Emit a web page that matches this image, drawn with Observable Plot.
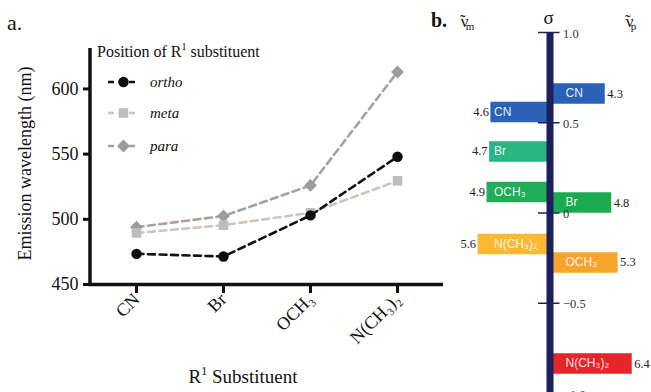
<!DOCTYPE html>
<html><head><meta charset="utf-8">
<script src="https://cdn.jsdelivr.net/npm/d3@7"></script>
<script src="https://cdn.jsdelivr.net/npm/@observablehq/plot@0.6"></script>
<style>
html,body{margin:0;padding:0;background:#fff;overflow:hidden}
#wrap{position:relative;width:651px;height:392px;overflow:hidden;background:#fff}
#wrap > svg{position:absolute;left:0;top:0;margin:0}
</style></head><body><div id="wrap"></div>
<script>
// ---------- Panel a data ----------
const categories = ["CN", "Br", "OCH₃", "N(CH₃)₂"];
const orthoValues = [473.5, 471.5, 503, 548];
const metaValues = [489.5, 495.5, 505, 529.5];
const paraValues = [494, 502.5, 526, 613];
const yTicks = [450, 500, 550, 600];
const yDomain = [450, 631];

// ---------- Panel b data ----------
const substituents = ["CN", "Br", "OCH₃", "N(CH₃)₂"];
const nuM = [4.6, 4.7, 4.9, 5.6];
const sigmaM = [0.56, 0.341, 0.116, -0.172];
const nuP = [4.3, 4.8, 5.3, 6.4];
const sigmaP = [0.662, 0.058, -0.274, -0.834];
const colorsM = ["#2b62b8", "#2ab583", "#22ad58", "#fbb832"];
const colorsP = ["#2b62b8", "#1dab52", "#f7a42b", "#e6252b"];
const sigmaTicks = [1, 0.5, 0, -0.5, -1];
const sigmaTickLabels = ["1.0", "0.5", "0", "−0.5", "−1.0"];

// ---------- styles ----------
const serif = '"Liberation Serif", "Times New Roman", serif';
const sans = '"Liberation Sans", Arial, sans-serif';
const seriesStyle = {
  para:  {line: "#a8a09d", marker: "#9c9c9c", symbol: "diamond2", r: 5.8},
  meta:  {line: "#cdc5c1", marker: "#bdbdbd", symbol: "square", r: 5.4},
  ortho: {line: "#111111", marker: "#0d0d0d", symbol: "circle", r: 5.2}
};
const seriesValues = {ortho: orthoValues, meta: metaValues, para: paraValues};
const drawOrder = ["para", "meta", "ortho"];
const rows = drawOrder.flatMap(pos => categories.map((c, i) => ({cat: c, pos, v: seriesValues[pos][i]})));

const wrap = document.getElementById("wrap");

const yAxisLine = (index, scales, values, dims) => {
  const y = scales.y;
  return d3.create("svg:line")
    .attr("x1", dims.marginLeft).attr("x2", dims.marginLeft)
    .attr("y1", y(yDomain[1])).attr("y2", y(yDomain[0]) + 1.75)
    .attr("stroke", "#111").attr("stroke-width", 3.5).node();
};

const panelA = Plot.plot({
  width: 445, height: 392,
  marginLeft: 90, marginRight: 2, marginTop: 48, marginBottom: 108,
  style: {background: "transparent", fontFamily: serif, color: "#111"},
  x: {type: "point", domain: categories, padding: 0.513},
  y: {domain: yDomain},
  marks: [
    Plot.ruleY([450], {strokeWidth: 3.5, stroke: "#111", insetLeft: -1.75}),
    yAxisLine,
    Plot.axisY({ticks: yTicks, tickSize: 7, tickPadding: 5, strokeWidth: 3, fontSize: 18, fontFamily: serif, label: null}),
    Plot.axisX({tickRotate: -45, tickSize: 9, tickPadding: 3, strokeWidth: 3, fontSize: 18, fontFamily: serif, label: null}),
    ...drawOrder.flatMap(pos => {
      const s = seriesStyle[pos];
      const d = rows.filter(r => r.pos === pos);
      return [
        Plot.line(d, {x: "cat", y: "v", stroke: s.line, strokeWidth: 2.6, strokeDasharray: "7,4.5"}),
        Plot.dot(d, {x: "cat", y: "v", symbol: s.symbol, r: s.r, fill: s.marker, stroke: "none"})
      ];
    })
  ]
});
wrap.appendChild(panelA);

// ---------- Panel b ----------
const navy = "#1b1f5c";
const pxPerUnit = 12.85, axisX0 = 549.5;
const barsM = substituents.map((s, i) => ({name: s, nu: nuM[i], sigma: sigmaM[i], color: colorsM[i], side: -1}));
const barsP = substituents.map((s, i) => ({name: s, nu: nuP[i], sigma: sigmaP[i], color: colorsP[i], side: 1}));
const bars = barsM.concat(barsP);

const panelB = Plot.plot({
  width: 651, height: 400, margin: 0,
  style: {background: "transparent", fontFamily: serif, color: "#111", overflow: "visible"},
  x: {domain: [-8, 8], range: [axisX0 - 8 * pxPerUnit, axisX0 + 8 * pxPerUnit], axis: null},
  y: {domain: [1, -1], range: [32, 393], axis: null},
  color: {type: "identity"},
  marks: [
    Plot.ruleY(bars, {y: "sigma", x1: 0, x2: d => d.side * d.nu, stroke: "color", strokeWidth: 20.5}),
    Plot.ruleX([0], {y1: 1, y2: -1.2, stroke: navy, strokeWidth: 7}),
    Plot.ruleY(sigmaTicks, {x1: 0, x2: 0, insetLeft: -11.5, insetRight: -10, stroke: navy, strokeWidth: 1.5}),
    Plot.text(sigmaTicks, {x: 0, y: d => d, text: (d, i) => sigmaTickLabels[i], dx: 13, dy: 1, textAnchor: "start", fontSize: 12.5, fontFamily: serif, fill: "#333"}),
    Plot.text(barsM, {x: 0, y: "sigma", text: "name", dx: -56, textAnchor: "start", fill: "white", fillOpacity: 0.92, fontFamily: sans, fontSize: 12}),
    Plot.text(barsP, {x: 0, y: "sigma", text: "name", dx: 15.5, textAnchor: "start", fill: "white", fillOpacity: 0.92, fontFamily: sans, fontSize: 12}),
    Plot.text(barsM, {x: d => -d.nu, y: "sigma", text: d => d.nu.toFixed(1), dx: -2, textAnchor: "end", fontSize: 12.5, fontFamily: serif, fill: "#222"}),
    Plot.text(barsP, {x: d => d.nu, y: "sigma", text: d => d.nu.toFixed(1), dx: 2, textAnchor: "start", fontSize: 12.5, fontFamily: serif, fill: "#222"})
  ]
});
wrap.appendChild(panelB);

// ---------- annotations & legend ----------
const ann = d3.select(wrap).append("svg")
  .attr("width", 651).attr("height", 392)
  .style("font-family", serif).style("fill", "#111");

ann.append("text").attr("x", 7).attr("y", 30).attr("font-size", 22).text("a.");

const lt = ann.append("text").attr("x", 97).attr("y", 57).attr("font-size", 16);
lt.append("tspan").text("Position of R");
lt.append("tspan").attr("font-size", 10).attr("dy", -7).text("1");
lt.append("tspan").attr("dy", 7).text(" substituent");

const legendY = {ortho: 82, meta: 113, para: 146};
["ortho", "meta", "para"].forEach(pos => {
  const s = seriesStyle[pos];
  const y = legendY[pos];
  ann.append("line").attr("x1", 108).attr("x2", 139).attr("y1", y).attr("y2", y)
    .attr("stroke", s.line).attr("stroke-width", 2.6).attr("stroke-dasharray", "6,4.5");
  const sym = {circle: d3.symbolCircle, square: d3.symbolSquare, diamond2: d3.symbolDiamond2}[s.symbol];
  ann.append("path").attr("transform", `translate(123.5,${y})`)
    .attr("d", d3.symbol(sym, Math.PI * s.r * s.r)()).attr("fill", s.marker);
  ann.append("text").attr("x", 150).attr("y", y + 5).attr("font-size", 15).attr("font-style", "italic").text(pos);
});

ann.append("text").attr("transform", "translate(31,163.5) rotate(-90)").attr("text-anchor", "middle")
  .attr("font-size", 18).text("Emission wavelength (nm)");

const xt = ann.append("text").attr("x", 243).attr("y", 383).attr("text-anchor", "middle").attr("font-size", 19);
xt.append("tspan").text("R");
xt.append("tspan").attr("font-size", 12).attr("dy", -8).text("1");
xt.append("tspan").attr("dy", 8).text(" Substituent");

ann.append("text").attr("x", 431).attr("y", 27).attr("font-size", 20).attr("font-weight", "bold").text("b.");

function nuLabel(x, sub) {
  const t = ann.append("text").attr("x", x).attr("y", 27).attr("font-size", 17);
  t.append("tspan").text("ν");
  t.append("tspan").attr("dx", -8.5).attr("dy", -1).text("˜");
  t.append("tspan").attr("dx", 0).attr("dy", 4).attr("font-size", 11).text(sub);
}
nuLabel(460, "m");
nuLabel(625, "p");
ann.append("text").attr("x", 548.5).attr("y", 24).attr("text-anchor", "middle").attr("font-size", 19).text("σ");
</script></body></html>
